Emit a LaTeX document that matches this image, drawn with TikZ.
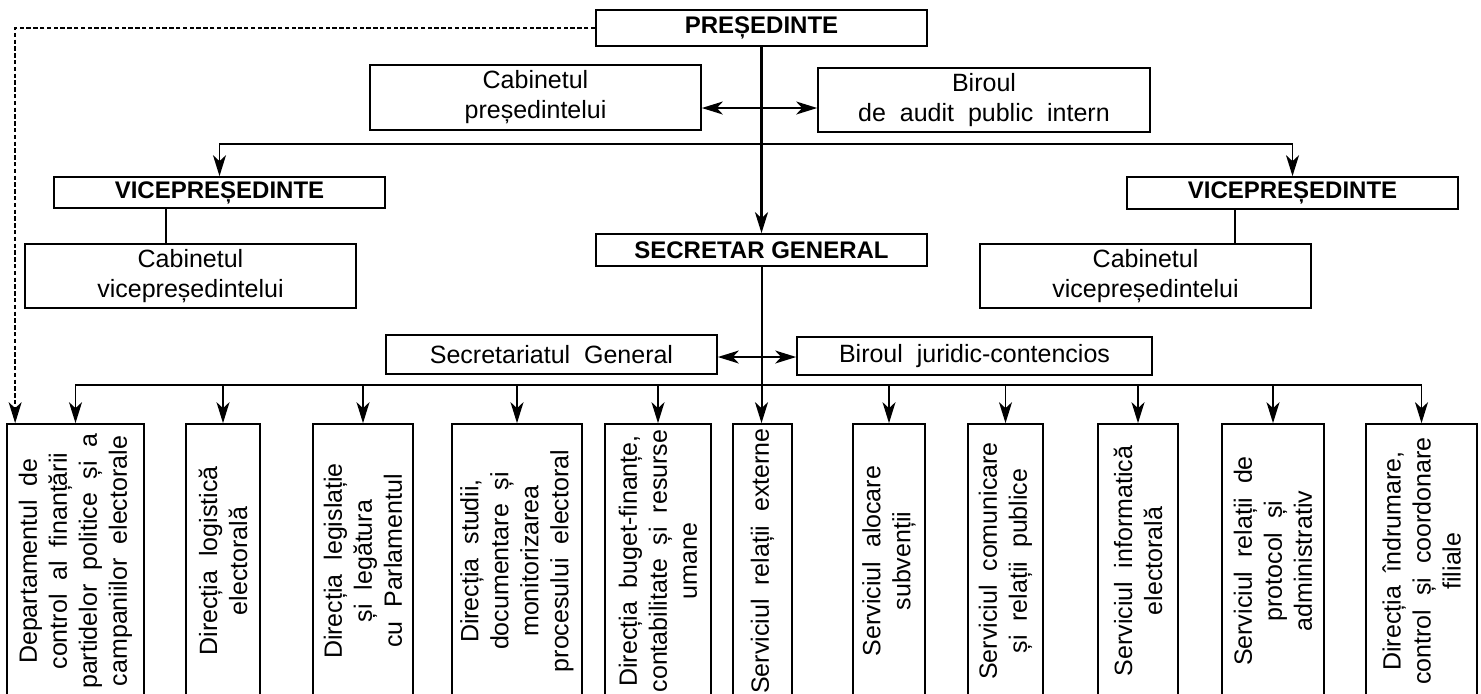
\documentclass[tikz,border=0pt]{standalone}
\usepackage{fontspec}
\setmainfont{Liberation Sans}[WordSpace=2]
\newfontfamily\headfont{Liberation Sans}
\usetikzlibrary{arrows.meta,calc,math}

\tikzset{
  box/.style={draw, line width=0.85pt, inner sep=0pt, align=center,
    font=\fontsize{12.5}{15}\selectfont},
  headbox/.style={box, font=\headfont\bfseries\fontsize{12}{14}\selectfont},
  unitbox/.style={box, rotate=90, minimum width=137pt},
  arr/.style={line width=0.85pt, -{Stealth[length=10.5pt,width=6.5pt,inset=3pt]}},
  dbl/.style={line width=0.85pt, {Stealth[length=10.5pt,width=6.5pt,inset=3pt]}-{Stealth[length=10.5pt,width=6.5pt,inset=3pt]}},
}

\begin{document}
\begin{tikzpicture}[x=0.5pt, y=-0.5pt]
  \tikzmath{%
    \mx = 761.5; \vby = 144; \bby = 385; \uy = 561;
  }
  \useasboundingbox (0,0) rectangle (1481,693);
  \clip (0,0) rectangle (1481,693);

  % conducere
  \node[headbox, minimum width=165.5pt, minimum height=18pt] (pres) at (\mx,28) {PREȘEDINTE};
  \node[box, minimum width=165.5pt, minimum height=32.5pt] (cab) at (535.5,97.5) {Cabinetul\\președintelui};
  \node[box, minimum width=166pt, minimum height=32pt] (bir) at (984,100) {Biroul\\de audit public intern};
  \node[headbox, minimum width=165.5pt, minimum height=15.5pt] (vl) at (219.5,192.5) {VICEPREȘEDINTE};
  \node[headbox, minimum width=165.5pt, minimum height=16pt] (vr) at (1292.5,193) {VICEPREȘEDINTE};
  \node[box, minimum width=165.5pt, minimum height=32pt] (cvl) at (190.5,276) {Cabinetul\\vicepreședintelui};
  \node[box, minimum width=165.5pt, minimum height=32pt] (cvr) at (1145.5,276) {Cabinetul\\vicepreședintelui};
  \node[headbox, minimum width=165.5pt, minimum height=16pt] (sg) at (\mx,250) {SECRETAR\kern0.28em GENERAL};
  \node[box, minimum width=165.5pt, minimum height=19.5pt] (secg) at (551.5,354.5) {Secretariatul General};
  \node[box, minimum width=177.5pt, minimum height=19pt] (jur) at (974.5,356) {Biroul juridic-contencios};

  % directii si servicii
  \foreach \i/\cx/\w/\txt in {
    1/75.5/68.5/{Departamentul de\\control al finanțării\\partidelor politice și a\\campaniilor electorale},
    2/223/37/{Direcția logistică\\electorală},
    3/363/50/{Direcția legislație\\și legătura\\cu Parlamentul},
    4/517/65/{Direcția studii,\\documentare și\\monitorizarea\\procesului electoral},
    5/658/53/{Direcția buget-finanțe,\\contabilitate și resurse\\umane},
    6/762.5/29.5/{Serviciul relații externe},
    7/889/36/{Serviciul alocare\\subvenții},
    8/1005.5/37.5/{Serviciul comunicare\\și relații publice},
    9/1138/40/{Serviciul informatică\\electorală},
    10/1273/51/{Serviciul relații de\\protocol și\\administrativ},
    11/1421.5/55.5/{Direcția îndrumare,\\control și coordonare\\filiale}}
    \node[unitbox, minimum height=\w pt] (b\i) at (\cx,\uy) {\txt};

  % legaturi
  \coordinate (vbus) at (\mx,\vby);
  \coordinate (bbus) at (\mx,\bby);
  \coordinate (mid1) at (\mx,108);
  \coordinate (mid2) at (\mx,357);
  \draw[arr, line width=1.3pt] (pres.south) -- (sg.north);
  \draw[dbl] (cab.east |- mid1) -- (bir.west |- mid1);
  \draw[arr] (vbus) -| (vl.north);
  \draw[arr] (vbus) -| (vr.north);
  \coordinate (vlx) at ($(vl.south)+(-53.5,0)$);
  \coordinate (vrx) at ($(vr.south)+(-57.5,0)$);
  \draw[line width=0.85pt] (vlx) -- (vlx |- cvl.north);
  \draw[line width=0.85pt] (vrx) -- (vrx |- cvr.north);
  \draw[arr, line width=1pt] (sg.south) -- (sg.south |- b6.east);
  \draw[dbl] (secg.east |- mid2) -- (jur.west |- mid2);
  \foreach \i in {1,2,3,4,5,7,8,9,10,11}
    \draw[arr] (bbus) -| (b\i.east);
  \draw[arr, line width=0.7pt, dash pattern=on 2.2pt off 1.2pt] (pres.west) -| ($(b1.north east)+(9,0)$);
\end{tikzpicture}
\end{document}
